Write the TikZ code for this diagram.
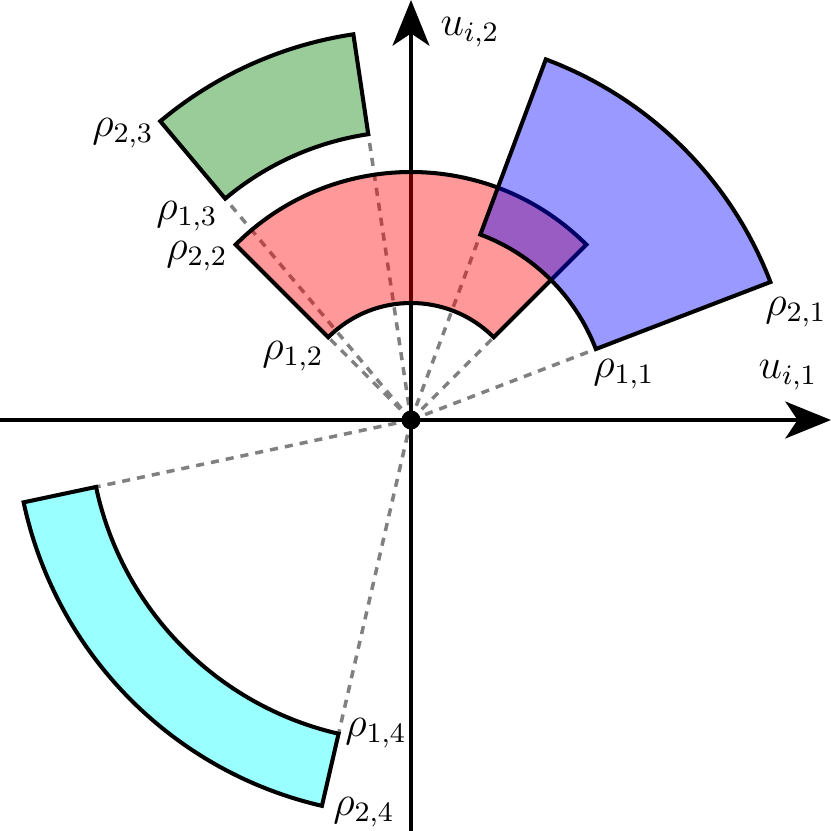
\documentclass[tikz,border=0pt]{standalone}
\usetikzlibrary{arrows.meta}
\definecolor{puredcyan}{RGB}{0,255,255}
\begin{document}
\begin{tikzpicture}[
  sector/.style={draw=black, line width=1.15pt, line join=miter, fill opacity=0.4},
  guide/.style={draw=gray, line width=1pt, dash pattern=on 2.3pt off 2pt},
  axisline/.style={line width=1.05pt, -{Stealth[length=13pt,width=10.5pt,inset=3.5pt]}},
  lbl/.style={inner sep=0pt, font=\large}
]
\useasboundingbox (-4.11,-4.11) rectangle (4.20,4.20);
\coordinate (o) at (0,0);
% inner corners
\coordinate (a1) at (21:1.98);   \coordinate (b1) at (69.5:1.98);
\coordinate (a2) at (45:1.17);   \coordinate (b2) at (135:1.17);
\coordinate (a3) at (98.5:2.89); \coordinate (b3) at (130:2.89);
\coordinate (a4) at (192:3.22);  \coordinate (b4) at (257:3.22);
% axis ends
\coordinate (xl) at (-4.11,0); \coordinate (xr) at (4.20,0);
\coordinate (yb) at (0,-4.11); \coordinate (yt) at (0,4.20);

% guides
\foreach \c in {a1,b1,a2,b2,a3,b3,a4,b4} \draw[guide] (o) -- (\c);
% axes
\draw[axisline] (xl) -- (xr);
\draw[axisline] (yb) -- (yt);

% sectors
\path[sector, fill=red] (45:1.17) arc[start angle=45, end angle=135, radius=1.17]
  -- (135:2.48) arc[start angle=135, end angle=45, radius=2.48] -- cycle;
\path[sector, fill=blue] (21:1.98) arc[start angle=21, end angle=69.5, radius=1.98]
  -- (69.5:3.85) arc[start angle=69.5, end angle=21, radius=3.85] -- cycle;
\path[sector, fill=green!50!black] (98.5:2.89) arc[start angle=98.5, end angle=130, radius=2.89]
  -- (130:3.90) arc[start angle=130, end angle=98.5, radius=3.90] -- cycle;
\path[sector, fill=puredcyan] (192:3.22) arc[start angle=192, end angle=257, radius=3.22]
  -- (257:3.96) arc[start angle=257, end angle=192, radius=3.96] -- cycle;

% origin dot
\node[circle, fill=black, inner sep=0pt, minimum size=0.19cm] (dot) at (o) {};

% labels
\node[lbl] (l11) at (2.13,0.46) {$\rho_{1,1}$};
\node[lbl] (l21) at (3.85,1.08) {$\rho_{2,1}$};
\node[lbl] (l12) at (-1.18,0.64) {$\rho_{1,2}$};
\node[lbl] (l22) at (-2.14,1.64) {$\rho_{2,2}$};
\node[lbl] (l13) at (-2.24,2.04) {$\rho_{1,3}$};
\node[lbl] (l23) at (-2.88,2.87) {$\rho_{2,3}$};
\node[lbl] (l14) at (-0.35,-3.13) {$\rho_{1,4}$};
\node[lbl] (l24) at (-0.47,-3.92) {$\rho_{2,4}$};
\node[lbl] (ux) at (3.77,0.45) {$u_{i,1}$};
\node[lbl] (uy) at (0.59,3.88) {$u_{i,2}$};
\end{tikzpicture}
\end{document}
